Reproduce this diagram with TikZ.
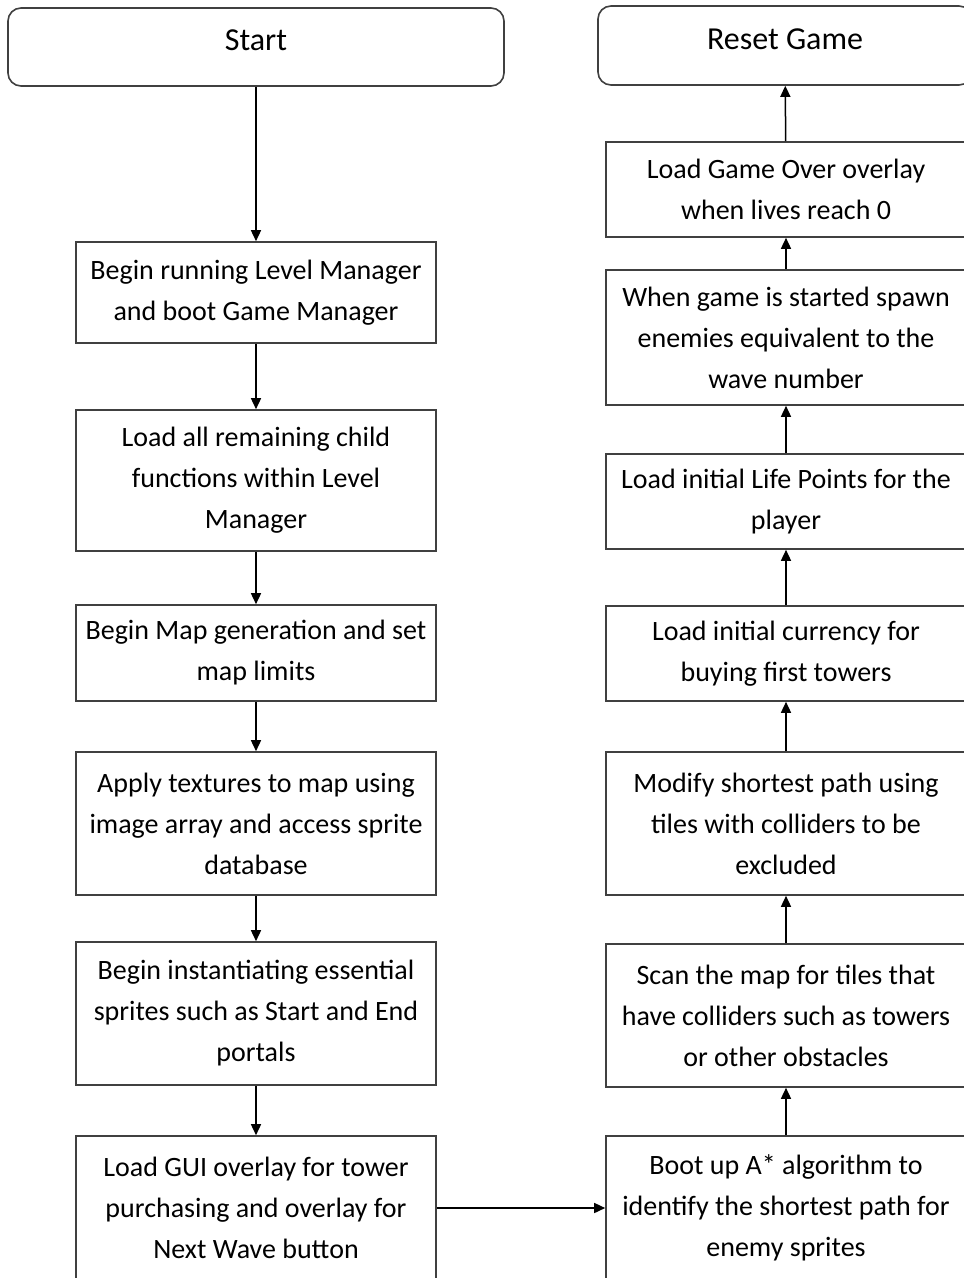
\documentclass[tikz,border=0pt]{standalone}
\usepackage{fontspec}
\setmainfont{Carlito}
\usetikzlibrary{arrows.meta}
\definecolor{edge}{HTML}{404040}
\tikzset{
  stepbox/.style={draw=edge, line width=1.6pt, rectangle, align=center,
    inner sep=0pt, font=\fontsize{28}{41}\selectfont},
  termbox/.style={stepbox, rounded corners=13pt, text depth=13pt,
    font=\fontsize{32}{41}\selectfont},
  flow/.style={draw=black, line width=1.5pt,
    -{Triangle[length=11pt,width=10pt]}}
}
\newcommand{\boxat}[6]{% name, style, left, top, right, bottom ... text follows
  \node[#2, minimum width={(#5)-(#3)}, minimum height={(#6)-(#4)}]
    (#1) at ({((#3)+(#5))/2},{((#4)+(#6))/2})}
\begin{document}
\begin{tikzpicture}[x=1pt,y=-1pt]
\useasboundingbox (0,0) rectangle (964,1278);
\clip (0,0) rectangle (964,1278);
\fill[white] (0,0) rectangle (964,1278);

% left column: start-up sequence
\boxat{start}{termbox}{8}{8}{504}{86} {Start};
\boxat{b1}{stepbox}{76}{242}{436}{343} {Begin running Level Manager\\and boot Game Manager};
\boxat{b2}{stepbox}{76}{410}{436}{551} {Load all remaining child\\functions within Level\\Manager};
\boxat{b3}{stepbox}{76}{605}{436}{701} {Begin Map generation and set\\map limits};
\boxat{b4}{stepbox}{76}{752}{436}{895} {Apply textures to map using\\image array and access sprite\\database};
\boxat{b5}{stepbox}{76}{942}{436}{1085} {Begin instantiating essential\\sprites such as Start and End\\portals};
\boxat{b6}{stepbox}{76}{1136}{436}{1280} {Load GUI overlay for tower\\purchasing and overlay for\\Next Wave button};

% right column: game loop, read bottom to top
\boxat{r1}{stepbox}{606}{1136}{966}{1280} {Boot up A* algorithm to\\identify the shortest path for\\enemy sprites};
\boxat{r2}{stepbox}{606}{944}{966}{1087} {Scan the map for tiles that\\have colliders such as towers\\or other obstacles};
\boxat{r3}{stepbox}{606}{752}{966}{895} {Modify shortest path using\\tiles with colliders to be\\excluded};
\boxat{r4}{stepbox}{606}{606}{966}{701} {Load initial currency for\\buying first towers};
\boxat{r5}{stepbox}{606}{454}{966}{549} {Load initial Life Points for the\\player};
\boxat{r6}{stepbox}{606}{270}{966}{405} {When game is started spawn\\enemies equivalent to the\\wave number};
\boxat{r7}{stepbox}{606}{142}{966}{237} {Load Game Over overlay\\when lives reach 0};
\boxat{reset}{termbox}{598}{6}{972}{85} {Reset Game};

% connectors
\draw[flow] (start.south) -- (b1.north);
\draw[flow] (b1) -- (b2);
\draw[flow] (b2) -- (b3);
\draw[flow] (b3) -- (b4);
\draw[flow] (b4) -- (b5);
\draw[flow] (b5) -- (b6);
\draw[flow] (b6.east) -- (r1.west);
\draw[flow] (r1.north) -- (r2.south);
\draw[flow] (r2) -- (r3);
\draw[flow] (r3) -- (r4);
\draw[flow] (r4) -- (r5);
\draw[flow] (r5) -- (r6);
\draw[flow] (r6) -- (r7);
\draw[flow] (r7) -- (reset);
\end{tikzpicture}
\end{document}
